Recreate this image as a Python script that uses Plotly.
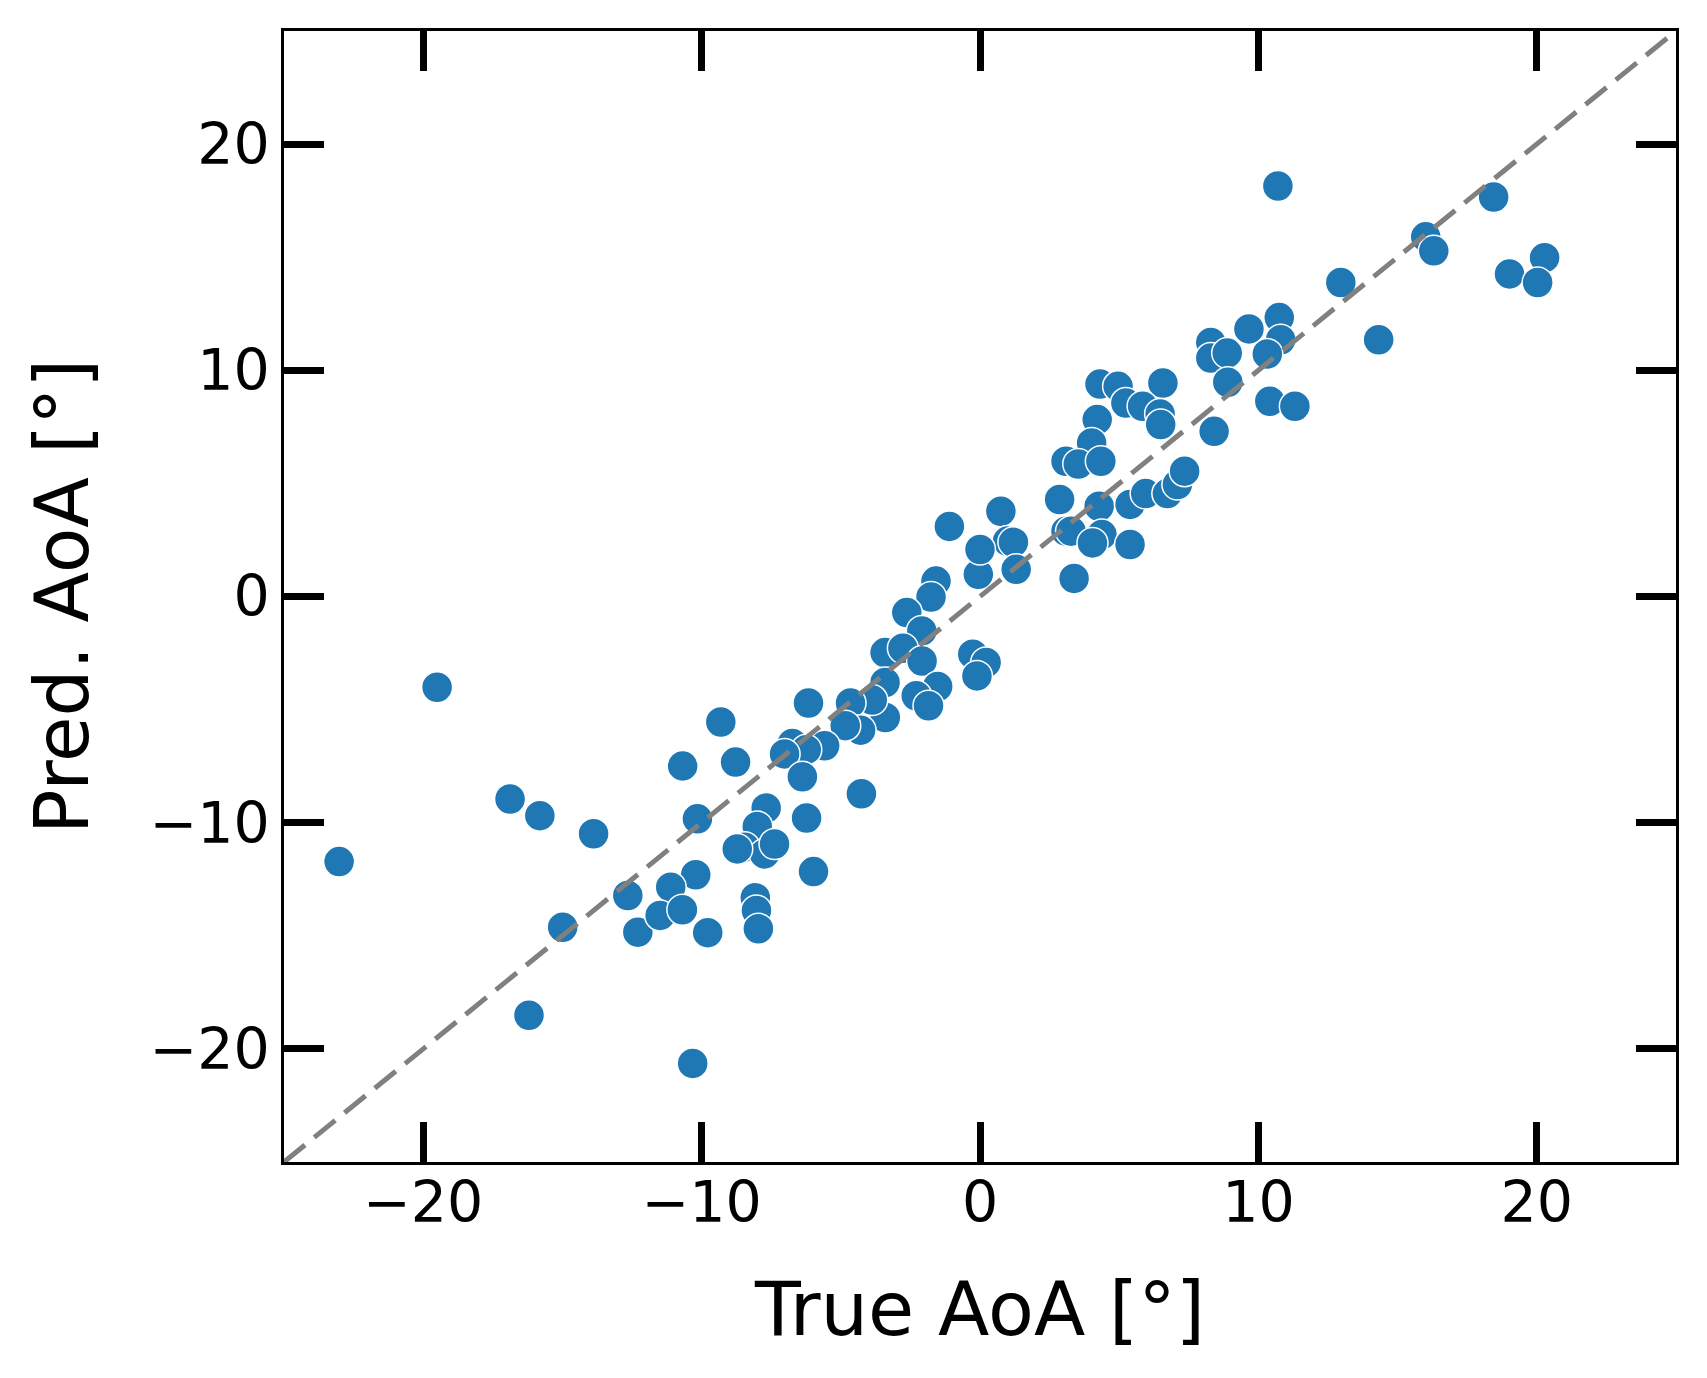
import plotly.graph_objects as go

true_aoa = [
    10.70, 18.45, 16.01, 16.30, 20.28, 19.02, 20.03, 12.96, 14.32, 10.75,
    9.66, 10.80, 10.32, 8.29, 8.29, 8.88, 8.90, 10.41, 11.31, 8.41,
    6.57, 4.31, 4.96, 5.24, 5.84, 6.47, 6.49, 4.21, 4.01, 3.09,
    3.53, 4.34, 2.86, 0.75, 0.99, 1.20, 1.30, 3.38, 3.09, 3.27,
    4.28, 4.38, 4.04, 5.39, 5.39, 5.95, 6.73, 7.09, 7.35, -0.06,
    0.00, -1.10, -1.58, -1.76, -2.63, -2.09, -3.41, -2.77, -2.08, -0.26,
    0.22, -0.11, -3.41, -1.52, -2.29, -1.85, -3.40, -3.87, -4.65, -4.29,
    -6.16, -4.84, -5.58, -6.74, -6.24, -7.02, -6.38, -4.26, -6.23, -7.68,
    -8.00, -8.45, -7.74, -7.38, -5.98, -8.07, -8.03, -19.50, -23.02, -16.88,
    -15.81, -13.88, -9.31, -8.78, -10.68, -10.15, -8.72, -10.21, -11.11, -12.65,
    -14.99, -16.20, -10.32, -12.29, -11.49, -10.69, -9.78, -7.96,
]
pred_aoa = [
    18.15, 17.66, 15.90, 15.28, 14.98, 14.26, 13.88, 13.88, 11.35, 12.33,
    11.83, 11.35, 10.72, 11.23, 10.54, 10.76, 9.47, 8.63, 8.41, 7.30,
    9.44, 9.39, 9.29, 8.55, 8.41, 8.07, 7.60, 7.82, 6.79, 5.98,
    5.86, 5.98, 4.29, 3.77, 2.45, 2.40, 1.20, 0.80, 2.89, 2.89,
    3.99, 2.74, 2.37, 2.30, 4.07, 4.55, 4.55, 4.95, 5.54, 0.98,
    2.08, 3.10, 0.68, -0.02, -0.71, -1.52, -2.48, -2.29, -2.85, -2.55,
    -2.92, -3.51, -3.80, -3.98, -4.39, -4.83, -5.35, -4.58, -4.71, -5.91,
    -4.71, -5.71, -6.60, -6.50, -6.77, -6.96, -7.97, -8.72, -9.79, -9.35,
    -10.17, -11.08, -11.38, -10.94, -12.16, -13.32, -13.88, -4.01, -11.72, -8.95,
    -9.69, -10.49, -5.55, -7.32, -7.49, -9.83, -11.16, -12.30, -12.85, -13.22,
    -14.62, -18.51, -20.64, -14.84, -14.10, -13.85, -14.86, -14.69,
]
axis_limits = [-25, 25]
tick_values = [-20, -10, 0, 10, 20]

FONT = "DejaVu Sans"

fig = go.Figure()
fig.add_trace(go.Scatter(
    x=true_aoa, y=pred_aoa, mode="markers",
    marker=dict(size=31, color="#1f77b4", line=dict(color="white", width=1.5)),
    showlegend=False,
))
fig.add_trace(go.Scatter(
    x=axis_limits, y=axis_limits, mode="lines",
    line=dict(color="gray", width=5, dash="27px,12px"),
    showlegend=False,
))

axis_common = dict(
    range=axis_limits,
    tickvals=tick_values,
    ticks="inside",
    ticklen=40,
    tickwidth=7,
    tickcolor="black",
    showline=True,
    linewidth=2.5,
    linecolor="black",
    mirror="ticks",
    showgrid=False,
    zeroline=False,
    tickfont=dict(family=FONT, size=57, color="black"),
)

fig.update_layout(
    width=1707, height=1378,
    margin=dict(l=276, r=39, t=23, b=224),
    paper_bgcolor="white", plot_bgcolor="white",
    font=dict(family=FONT, color="black"),
    xaxis=dict(**axis_common, ticklabelstandoff=-11,
               title=dict(text="True AoA [°]", font=dict(family=FONT, size=75), standoff=49)),
    yaxis=dict(**axis_common, ticklabelstandoff=0,
               title=dict(text="Pred. AoA [°]", font=dict(family=FONT, size=74), standoff=37)),
)

fig.write_html("out.html")
